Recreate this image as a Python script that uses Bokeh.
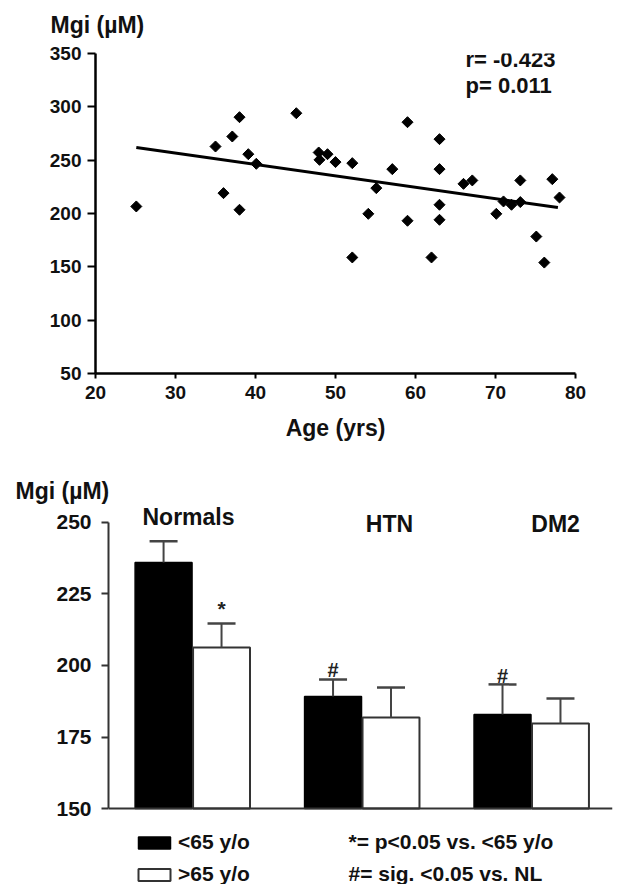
import numpy as np
from bokeh.plotting import figure
from bokeh.models import Label, Span, FixedTicker, Legend, LegendItem, Range1d, Title
from bokeh.core.properties import value
from bokeh.embed import file_html
from bokeh.resources import INLINE

FONT = "Liberation Sans"

# ---------------- data: scatter ----------------
age = [25.1, 35.0, 36.0, 37.1, 38.0, 38.0, 39.1, 40.1, 45.1, 47.9, 48.0, 49.0,
       50.0, 52.1, 52.1, 54.1, 55.1, 57.1, 59.0, 59.0, 62.0, 63.0, 63.0, 63.0,
       63.0, 66.0, 67.1, 70.1, 71.0, 72.0, 73.1, 73.1, 75.1, 76.1, 77.1, 78.0]
mgi = [206.6, 262.8, 219.1, 272.2, 290.3, 203.5, 255.6, 246.6, 294.0, 257.2, 250.3, 255.6,
       248.2, 247.2, 158.8, 199.7, 223.8, 241.6, 285.6, 193.2, 158.8, 269.7, 241.6, 208.2,
       194.1, 227.8, 231.0, 199.7, 211.3, 208.2, 210.7, 231.0, 178.4, 154.0, 232.2, 215.0]
fit_age = [25.1, 77.8]
fit_mgi = [261.9, 205.6]
age_ticks = [20, 30, 40, 50, 60, 70, 80]
mgi_ticks = [50, 100, 150, 200, 250, 300, 350]
r_text = "r= -0.423"
p_text = "p= 0.011"

# ---------------- data: bars ----------------
groups = ["Normals", "HTN", "DM2"]
group_x = [1, 2, 3]
young_mgi = [236.0, 189.2, 182.9]      # <65 y/o
young_err = [243.4, 195.1, 193.4]      # upper error bar
old_mgi = [206.3, 181.8, 179.7]        # >65 y/o
old_err = [214.7, 192.3, 188.5]
bar_ticks = [150, 175, 200, 225, 250]
series_labels = ["<65 y/o", ">65 y/o"]
notes = ["*= p<0.05 vs. <65 y/o", "#= sig. <0.05 vs. NL"]
y_title = "Mgi (µM)"


def bare(p):
    p.xgrid.grid_line_color = None
    p.ygrid.grid_line_color = None
    p.outline_line_color = None


# ================= header strip (scatter y title) =================
p0 = figure(width=622, height=40, output_backend="svg", toolbar_location=None,
            x_range=Range1d(0, 622), y_range=Range1d(0, 40),
            x_axis_location=None, y_axis_location=None,
            min_border_left=0, min_border_right=0, min_border_top=0, min_border_bottom=0)
bare(p0)
p0.text(x=[50], y=[16], text=[y_title], text_font=value(FONT), text_font_style="bold",
        text_font_size="23px", text_align="left", text_baseline="middle", text_color="#111111")

# ================= scatter figure =================
p1 = figure(width=622, height=408, output_backend="svg", toolbar_location=None,
            x_range=Range1d(20, 80), y_range=Range1d(50, 350),
            min_border_left=95, min_border_right=47, min_border_top=13, min_border_bottom=75)
bare(p1)

for ax in (p1.xaxis[0], p1.yaxis[0]):
    ax.axis_line_color = "black"
    ax.axis_line_width = 2.5
    ax.major_tick_line_color = "black"
    ax.major_tick_line_width = 2
    ax.minor_tick_line_color = None
    ax.major_tick_in = 0
    ax.major_label_text_font = FONT
    ax.major_label_text_font_style = "bold"
    ax.major_label_text_font_size = "19px"
    ax.major_label_text_color = "#111111"
p1.xaxis.ticker = FixedTicker(ticks=age_ticks)
p1.yaxis.ticker = FixedTicker(ticks=mgi_ticks)
p1.xaxis.major_tick_out = 5
p1.yaxis.major_tick_out = 8
p1.xaxis.major_label_standoff = 7
p1.yaxis.major_label_standoff = 6
p1.xaxis.axis_label = "Age (yrs)"
p1.xaxis.axis_label_text_font = FONT
p1.xaxis.axis_label_text_font_style = "bold"
p1.xaxis.axis_label_text_font_size = "23px"
p1.xaxis.axis_label_text_color = "#111111"
p1.xaxis.axis_label_standoff = 13

p1.line(fit_age, fit_mgi, line_width=3, line_color="black")
p1.scatter(age, mgi, marker="square", angle=np.pi / 4, size=7.8,
           fill_color="black", line_color="black")

p1.add_layout(Label(x=66.25, y=344.4, text=r_text, text_font=FONT, text_font_style="bold",
                    text_font_size="22px", text_align="left", text_baseline="middle", text_color="#111111"))
p1.add_layout(Label(x=66.25, y=320.0, text=p_text, text_font=FONT, text_font_style="bold",
                    text_font_size="22px", text_align="left", text_baseline="middle", text_color="#111111"))

# ================= bar figure =================
p2 = figure(width=622, height=436, output_backend="svg", toolbar_location=None,
            x_range=Range1d(0.504, 3.478), y_range=Range1d(123.43, 256.64),
            x_axis_location=None,
            min_border_left=108, min_border_right=10, min_border_top=55, min_border_bottom=0)
bare(p2)
ya = p2.yaxis[0]
ya.bounds = (150, 250)
ya.ticker = FixedTicker(ticks=bar_ticks)
ya.axis_line_color = "#333333"
ya.axis_line_width = 2
ya.major_tick_line_color = "#333333"
ya.major_tick_line_width = 2
ya.major_tick_in = 0
ya.major_tick_out = 7
ya.minor_tick_line_color = None
ya.major_label_standoff = 10
ya.major_label_text_font = FONT
ya.major_label_text_font_style = "bold"
ya.major_label_text_font_size = "21px"
ya.major_label_text_color = "#111111"

p2.add_layout(Title(text=y_title, align="left", offset=-93, standoff=0,
                    text_font=FONT, text_font_style="bold", text_font_size="23px",
                    text_color="#111111"), "above")

p2.add_layout(Span(location=150, dimension="width", line_color="#333333", line_width=2))

off = 0.171
bw = 0.336
xb = [g - off for g in group_x]
xw = [g + off for g in group_x]
rb = p2.vbar(x=xb, top=young_mgi, bottom=150, width=bw, fill_color="black",
             line_color="black", line_width=1.5)
rw = p2.vbar(x=xw, top=old_mgi, bottom=150, width=bw, fill_color="white",
             line_color="#333333", line_width=2)

cap = 0.0826
for xs, v, e in ((xb, young_mgi, young_err), (xw, old_mgi, old_err)):
    p2.segment(x0=xs, y0=v, x1=xs, y1=e, line_color="#444444", line_width=2)
    p2.segment(x0=[x - cap for x in xs], y0=e, x1=[x + cap for x in xs], y1=e,
               line_color="#444444", line_width=2.5)

# group labels
label_x = [0.976, 2.162, 3.142]
label_y = [251.75, 249.3, 249.3]
p2.text(x=label_x, y=label_y, text=groups, text_font=value(FONT), text_font_style="bold",
        text_font_size="23px", text_align="center", text_baseline="middle", text_color="#111111")

# significance marks
p2.text(x=[xw[0]], y=[219.8], text=["*"], text_font=value(FONT), text_font_style="bold",
        text_font_size="21px", text_align="center", text_baseline="alphabetic", text_color="#222222")
p2.text(x=[xb[1], xb[2]], y=[198.3, 196.5], text=["#", "#"], text_font=value(FONT),
        text_font_style="bold", text_font_size="20px", text_align="center",
        text_baseline="alphabetic", text_color="#222222")

legend = Legend(items=[LegendItem(label=series_labels[0], renderers=[rb]),
                       LegendItem(label=series_labels[1], renderers=[rw])],
                location=(26, -2), orientation="vertical",
                glyph_width=40, glyph_height=15, label_standoff=4, spacing=8,
                padding=0, margin=0, border_line_color=None, background_fill_alpha=0,
                label_text_font=FONT, label_text_font_style="bold", label_text_font_size="21px",
                label_text_color="#111111")
p2.add_layout(legend)

p2.add_layout(Label(x=1.920, y=138.46, text=notes[0], text_font=FONT, text_font_style="bold",
                    text_font_size="21px", text_align="left", text_baseline="middle", text_color="#111111"))
p2.add_layout(Label(x=1.920, y=127.27, text=notes[1], text_font=FONT, text_font_style="bold",
                    text_font_size="21px", text_align="left", text_baseline="middle", text_color="#111111"))

open("out.html", "w").write(file_html([p0, p1, p2], INLINE))
